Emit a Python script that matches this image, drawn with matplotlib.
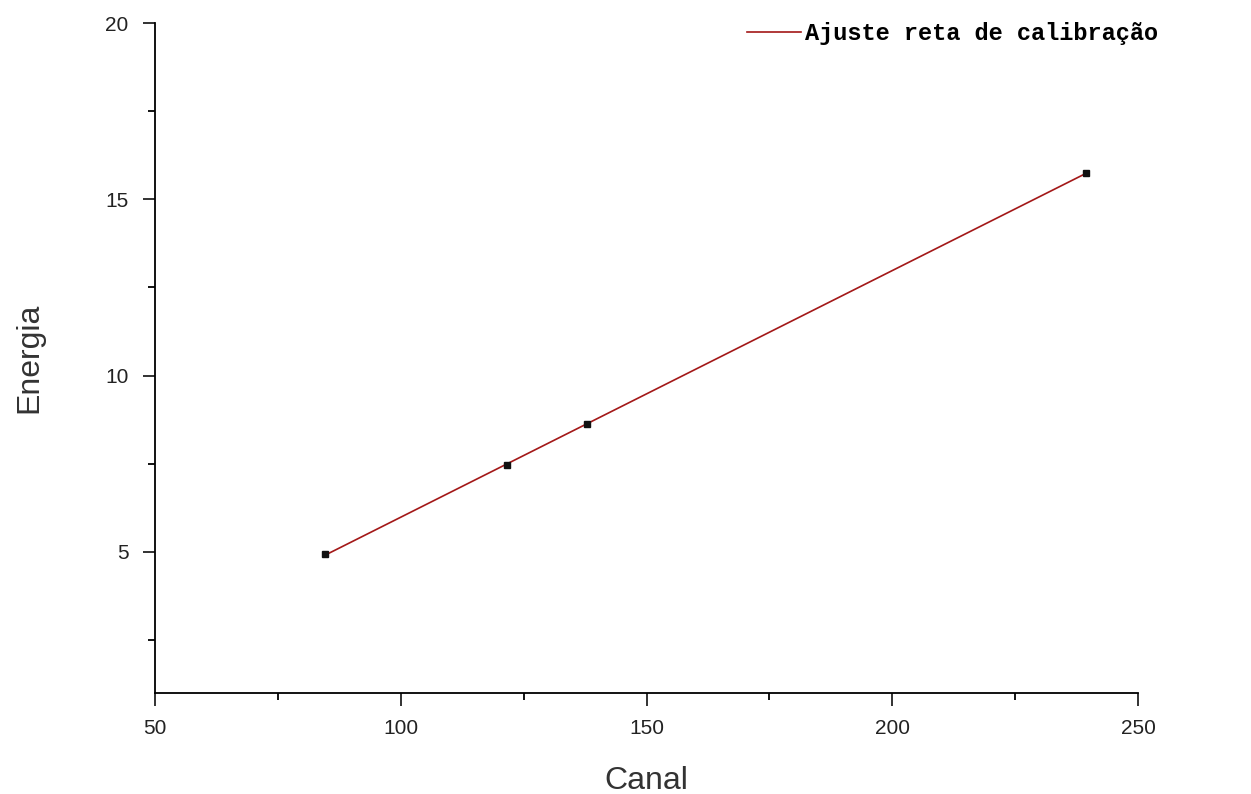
import matplotlib
matplotlib.use("Agg")
import matplotlib.pyplot as plt
import numpy as np
from matplotlib.ticker import MultipleLocator

# calibration points (canal, energia)
canal = [84.5, 121.6, 137.9, 239.4]
energia = [4.94, 7.46, 8.62, 15.75]
fit_label = "Ajuste reta de calibração"

plt.rcParams['font.family'] = ['Liberation Sans', 'DejaVu Sans']

fig = plt.figure(figsize=(12.51, 7.94), dpi=100)
ax = fig.add_axes([0.1239, 0.1272, 0.7858, 0.8438])

# linear fit through the points
slope, intercept = np.polyfit(canal, energia, 1)
xs = np.array([min(canal), max(canal)])
line, = ax.plot(xs, slope * xs + intercept, color="#a31818", lw=1.2,
                label=fit_label, zorder=2)
ax.plot(canal, energia, ls="none", marker="s", ms=4.5, color="#111111", zorder=3)

ax.set_xlim(50, 250)
ax.set_ylim(1, 20)
ax.xaxis.set_major_locator(MultipleLocator(50))
ax.xaxis.set_minor_locator(MultipleLocator(25))
ax.yaxis.set_major_locator(MultipleLocator(5))
ax.yaxis.set_minor_locator(MultipleLocator(2.5))

for side in ["top", "right"]:
    ax.spines[side].set_visible(False)
for side in ["left", "bottom"]:
    ax.spines[side].set_linewidth(1.3)

ax.tick_params(which="major", direction="out", length=9, width=1.3,
               labelsize=15, pad=10, colors="#222222")
ax.tick_params(which="minor", direction="out", length=5, width=1.3)

ax.set_xlabel("Canal", fontsize=23, labelpad=20, color="#333333")
ax.set_ylabel("Energia", fontsize=23, labelpad=44, color="#333333")

leg = ax.legend(handles=[line], loc="center left",
                bbox_to_anchor=(0.597, 0.958), bbox_transform=fig.transFigure,
                frameon=False, handlelength=2.3, handletextpad=0.15,
                borderpad=0, borderaxespad=0,
                prop={"family": "Liberation Mono", "size": 17, "weight": "bold"})

fig.savefig("out.png", dpi=100, facecolor="white")
